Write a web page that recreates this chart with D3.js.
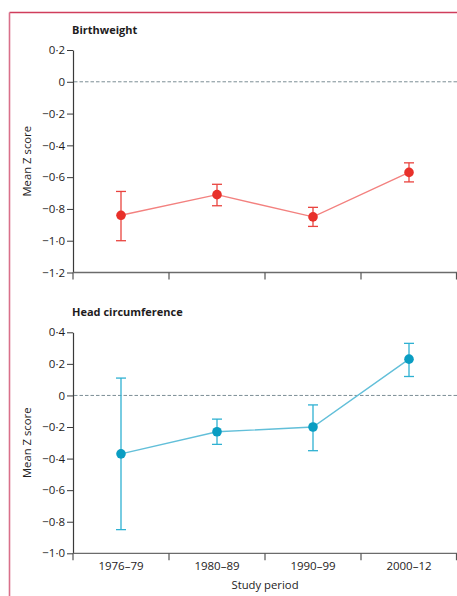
<!DOCTYPE html>
<html><head><meta charset="utf-8">
<script src="https://cdn.jsdelivr.net/npm/d3@7"></script>
<style>
html,body{margin:0;padding:0;background:#fff;}
svg{display:block;font-family:"Open Sans",sans-serif;}
</style></head>
<body>
<svg id="c" width="457" height="596"></svg>
<script>
const periods = ["1976–79","1980–89","1990–99","2000–12"];
const bwMean = [-0.84,-0.71,-0.85,-0.57];
const bwLow  = [-1.00,-0.78,-0.91,-0.63];
const bwHigh = [-0.69,-0.645,-0.79,-0.51];
const hcMean = [-0.37,-0.23,-0.20,0.23];
const hcLow  = [-0.85,-0.31,-0.35,0.12];
const hcHigh = [0.11,-0.15,-0.06,0.33];
const bwTicks = [0.2,0,-0.2,-0.4,-0.6,-0.8,-1.0,-1.2];
const hcTicks = [0.4,0.2,0,-0.2,-0.4,-0.6,-0.8,-1.0];

const svg = d3.select("#c");
const fmt = v => {
  if (Math.abs(v) < 1e-9) return "0";
  const s = Math.abs(v).toFixed(1).replace(".", "·");
  return (v < 0 ? "−" : "") + s;
};
const txt = "#1e1c1d";

// frame
svg.append("line").attr("x1",9.5).attr("x2",457).attr("y1",12.5).attr("y2",12.5)
  .attr("stroke","#d03d5c").attr("stroke-width",1.3);
svg.append("line").attr("x1",9.5).attr("x2",9.5).attr("y1",12.5).attr("y2",596)
  .attr("stroke","#d9708a").attr("stroke-width",1.6);

const x = d3.scaleBand().domain(periods).range([73,457]).padding(0);
const cx = d => x(d) + x.bandwidth()/2;

function panel(opt){
  const y = d3.scaleLinear().domain(opt.domain).range(opt.range);
  const g = svg.append("g");
  // title
  g.append("text").attr("x",72).attr("y",opt.range[1]-16).attr("font-size",11)
    .attr("font-weight","bold").attr("fill",txt).text(opt.title);
  // y-axis label
  const ym = (opt.range[0]+opt.range[1])/2;
  g.append("text").attr("transform",`translate(31,${ym}) rotate(-90)`)
    .attr("text-anchor","middle").attr("font-size",11.3).attr("fill",txt).text("Mean Z score");
  // y axis
  const ya = g.append("g").attr("transform","translate(73,0)")
    .call(d3.axisLeft(y).tickValues(opt.ticks).tickFormat(fmt).tickSize(6).tickSizeOuter(0).tickPadding(2));
  ya.select(".domain").attr("stroke","#3a3a3a").attr("stroke-width",1.2);
  ya.selectAll(".tick line").attr("stroke","#3a3a3a").attr("stroke-width",1);
  ya.selectAll("text").attr("font-size",11.5).attr("fill",txt).attr("font-family","'Open Sans',sans-serif");
  // x axis
  const y0 = opt.range[0];
  g.append("line").attr("x1",73).attr("x2",457).attr("y1",y0).attr("y2",y0)
    .attr("stroke","#6b6b6b").attr("stroke-width",1.3);
  const bounds = periods.map(p => x(p)).concat([x.range()[1]-0.5]);
  g.selectAll(".xt").data(bounds).join("line")
    .attr("x1",d=>d).attr("x2",d=>d).attr("y1",y0).attr("y2",y0+7)
    .attr("stroke","#555").attr("stroke-width",1.2);
  if (opt.labels) {
    g.selectAll(".xl").data(periods).join("text")
      .attr("x",d=>cx(d)).attr("y",y0+17).attr("text-anchor","middle")
      .attr("font-size",11.5).attr("fill",txt).text(d=>d);
    g.append("text").attr("x",265).attr("y",y0+36).attr("text-anchor","middle")
      .attr("font-size",11.3).attr("fill",txt).text("Study period");
  }
  // zero line
  g.append("line").attr("x1",74).attr("x2",457).attr("y1",y(0)).attr("y2",y(0))
    .attr("stroke","#7d8f96").attr("stroke-width",1).attr("stroke-dasharray","3.5,2");
  // connecting line
  const pts = periods.map((p,i)=>[cx(p), y(opt.mean[i])]);
  g.append("path").attr("d", d3.line()(pts)).attr("fill","none")
    .attr("stroke",opt.lineColor).attr("stroke-width",1.4);
  // error bars
  periods.forEach((p,i)=>{
    const xx = cx(p);
    g.append("line").attr("x1",xx).attr("x2",xx).attr("y1",y(opt.low[i])).attr("y2",y(opt.high[i]))
      .attr("stroke",opt.errColor).attr("stroke-width",1.3);
    [opt.low[i], opt.high[i]].forEach(v=>{
      g.append("line").attr("x1",xx-5).attr("x2",xx+5).attr("y1",y(v)).attr("y2",y(v))
        .attr("stroke",opt.errColor).attr("stroke-width",1.3);
    });
  });
  g.selectAll(".pt").data(pts).join("circle")
    .attr("cx",d=>d[0]).attr("cy",d=>d[1]).attr("r",4.8).attr("fill",opt.dotColor);
}

panel({title:"Birthweight", domain:[-1.2,0.2], range:[272.5,50], ticks:bwTicks,
  mean:bwMean, low:bwLow, high:bwHigh, labels:false,
  lineColor:"#f3817f", errColor:"#e9443f", dotColor:"#e8302a"});
panel({title:"Head circumference", domain:[-1.0,0.4], range:[553.3,332.3], ticks:hcTicks,
  mean:hcMean, low:hcLow, high:hcHigh, labels:true,
  lineColor:"#62bfd9", errColor:"#2fb1d2", dotColor:"#0a9dc2"});
</script>
</body></html>
